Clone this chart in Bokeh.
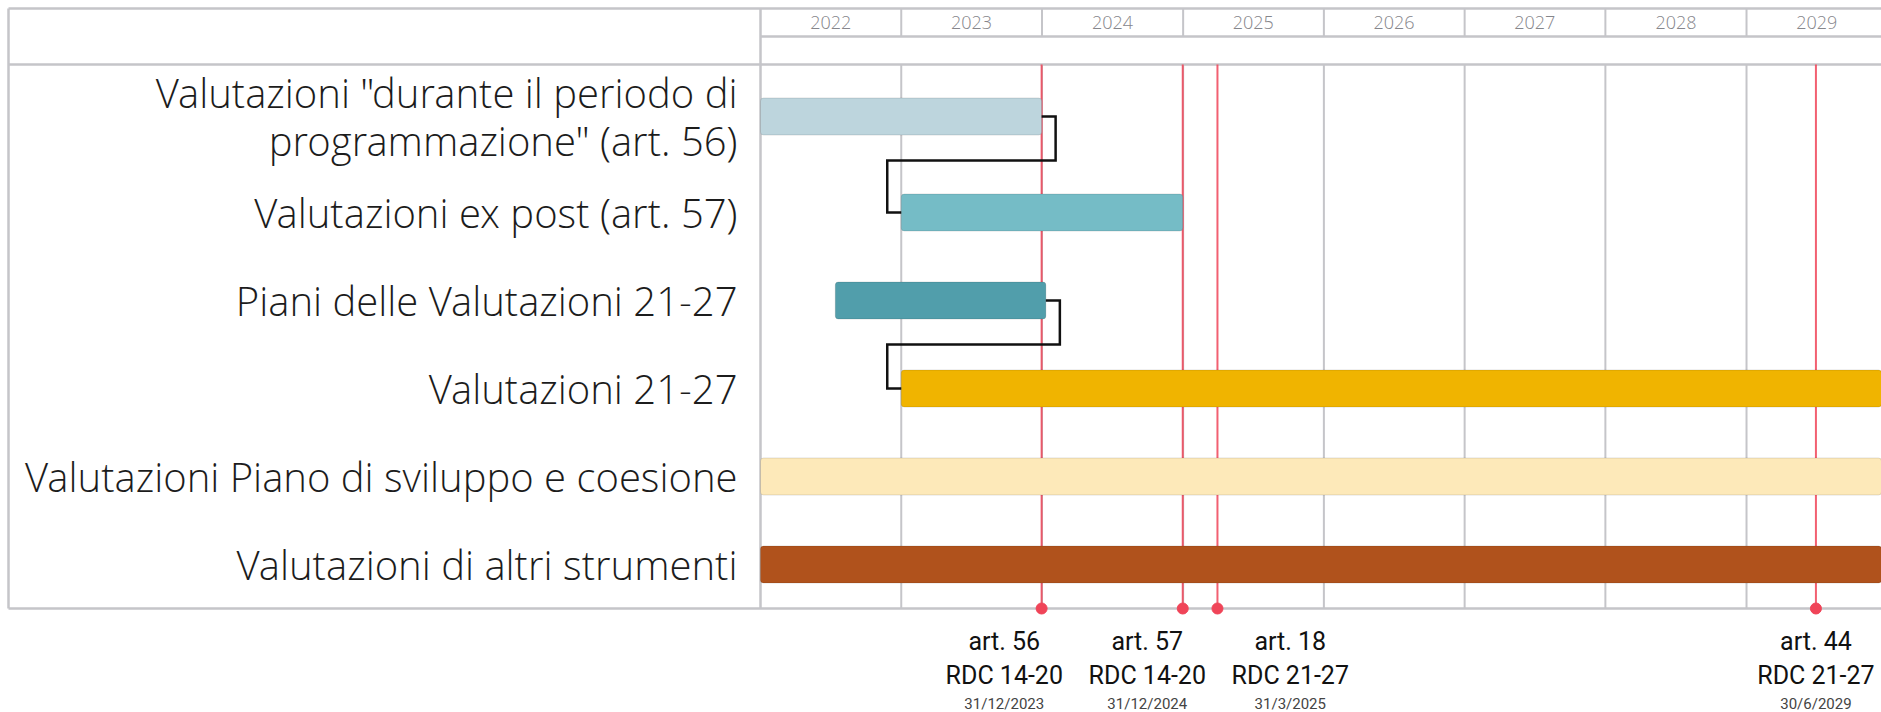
from datetime import datetime
from bokeh.plotting import figure
from bokeh.models import Range1d, ColumnDataSource
from bokeh.core.properties import value
from bokeh.embed import file_html
from bokeh.resources import INLINE

# ---------------- data ----------------
tasks = [
    'Valutazioni "durante il periodo di\nprogrammazione" (art. 56)',
    "Valutazioni ex post (art. 57)",
    "Piani delle Valutazioni 21-27",
    "Valutazioni 21-27",
    "Valutazioni Piano di sviluppo e coesione",
    "Valutazioni di altri strumenti",
]
task_start = ["2022-01-01", "2023-01-01", "2022-07-14", "2023-01-01", "2022-01-01", "2022-01-01"]
task_end = ["2023-12-31", "2024-12-31", "2024-01-11", "2030-12-31", "2030-12-31", "2030-12-31"]
task_color = ["#bdd5dd", "#75bcc6", "#519eab", "#f0b400", "#fde9b9", "#b0521c"]
dependencies = [(0, 1), (2, 3)]

years = [2022, 2023, 2024, 2025, 2026, 2027, 2028, 2029]

milestone_date = ["2023-12-31", "2024-12-31", "2025-03-31", "2029-06-30"]
milestone_art = ["art. 56", "art. 57", "art. 18", "art. 44"]
milestone_rdc = ["RDC 14-20", "RDC 14-20", "RDC 21-27", "RDC 21-27"]
milestone_text = ["31/12/2023", "31/12/2024", "31/3/2025", "30/6/2029"]

# ---------------- layout ----------------
W, H = 1881, 712
EPOCH = datetime(1970, 1, 1)


def ms(s):
    return (datetime.fromisoformat(s) - EPOCH).total_seconds() * 1000.0


YEAR_PX = 140.86
MS_PER_PX = (ms("2029-01-01") - ms("2022-01-01")) / (7 * YEAR_PX)
CHART_LEFT_PX = 760
chart_left = ms("2022-01-01")
x0 = chart_left - CHART_LEFT_PX * MS_PER_PX
x1 = x0 + W * MS_PER_PX
LEFT_PX = 8

TOP, HEAD1, HEAD2, BOTTOM = 8, 36, 64, 608
row_heights = [104, 88, 88, 88, 88, 88]
centers = []
acc = HEAD2
for h in row_heights:
    centers.append(acc + h / 2)
    acc += h

GRID = "#c5c5c9"
RED = "#f04458"
LABEL_FONT = value("'Open Sans Light', 'Open Sans'")

p = figure(width=W, height=H, x_range=Range1d(x0, x1), y_range=Range1d(H, 0),
           x_axis_type=None, y_axis_type=None, toolbar_location=None,
           output_backend="svg", min_border=0, outline_line_color=None)
p.background_fill_color = "white"
p.border_fill_color = "white"

# grid / table lines
year_x = [ms(f"{y}-01-01") for y in years]
n = len(years) - 1
p.segment(x0=year_x[1:], y0=[HEAD2] * n, x1=year_x[1:], y1=[BOTTOM] * n,
          line_color=GRID, line_width=2)
p.segment(x0=year_x[1:], y0=[TOP] * n, x1=year_x[1:], y1=[HEAD1] * n,
          line_color=GRID, line_width=2)
left_x = x0 + LEFT_PX * MS_PER_PX
p.segment(x0=[left_x, chart_left, left_x, left_x, left_x, chart_left],
          y0=[TOP, HEAD1, HEAD2, BOTTOM, TOP, TOP],
          x1=[x1, x1, x1, x1, left_x, chart_left],
          y1=[TOP, HEAD1, HEAD2, BOTTOM, BOTTOM, BOTTOM],
          line_color=GRID, line_width=2.5)

# year labels
p.text(x=[ms(f"{y}-07-02") for y in years], y=[(TOP + HEAD1) / 2] * len(years), text=[str(y) for y in years],
       text_align="center", text_baseline="middle", text_font=LABEL_FONT,
       text_font_size="18px", text_color="#86868b")

# milestone lines
m_x = [ms(d) for d in milestone_date]
p.segment(x0=m_x, y0=[HEAD2] * len(m_x), x1=m_x, y1=[BOTTOM] * len(m_x),
          line_color=RED, line_width=2, line_alpha=0.85)

# bars
src = ColumnDataSource(dict(
    y=centers,
    left=[ms(s) for s in task_start],
    right=[ms(e) for e in task_end],
    color=task_color,
))
p.hbar(y="y", left="left", right="right", height=37, fill_color="color",
       line_color="#000000", line_alpha=0.12, line_width=1, border_radius=3, source=src)

# dependency connectors
off = 14 * MS_PER_PX
xs, ys = [], []
for a, b in dependencies:
    xe = ms(task_end[a])
    xs_ = ms(task_start[b])
    ya, yb = centers[a], centers[b]
    mid = ya + 44
    xs.append([xe, xe + off, xe + off, xs_ - off, xs_ - off, xs_])
    ys.append([ya, ya, mid, mid, yb, yb])
p.multi_line(xs=xs, ys=ys, line_color="#111111", line_width=2.5, line_join="miter")

# milestone dots
p.scatter(x=m_x, y=[BOTTOM] * len(m_x), size=11, fill_color=RED, line_color=RED)

# row labels
p.text(x=[chart_left - 23 * MS_PER_PX] * len(tasks), y=centers, text=tasks,
       text_align="right", text_baseline="middle", text_font=LABEL_FONT,
       text_font_size="40px", text_color="#1c1c1c", text_line_height=0.88)

# milestone annotations: spread overlapping labels around their cluster mean
LABEL_W = 143
px = [(x - x0) / MS_PER_PX for x in m_x]
order = sorted(range(len(px)), key=lambda i: px[i])
clusters = [[i] for i in order]


def place(cl):
    mean = sum(px[i] for i in cl) / len(cl)
    return [mean + (k - (len(cl) - 1) / 2) * LABEL_W for k in range(len(cl))]


merged = True
while merged:
    merged = False
    for k in range(len(clusters) - 1):
        a, b = place(clusters[k]), place(clusters[k + 1])
        if a[-1] + LABEL_W > b[0]:
            clusters[k] = clusters[k] + clusters[k + 1]
            del clusters[k + 1]
            merged = True
            break
lab_px = [0.0] * len(px)
for cl in clusters:
    for i, c in zip(cl, place(cl)):
        lab_px[i] = c
lab_x = [x0 + c * MS_PER_PX for c in lab_px]

p.text(x=lab_x, y=[641] * len(m_x), text=milestone_art, text_align="center", text_baseline="middle",
       text_font=value("Roboto"), text_font_size="25px", text_color="#111111")
p.text(x=lab_x, y=[675] * len(m_x), text=milestone_rdc, text_align="center", text_baseline="middle",
       text_font=value("Roboto"), text_font_size="25px", text_color="#111111")
p.text(x=lab_x, y=[703] * len(m_x), text=milestone_text, text_align="center", text_baseline="middle",
       text_font=value("Roboto"), text_font_size="15px", text_color="#444444")

open("out.html", "w").write(file_html(p, INLINE))
